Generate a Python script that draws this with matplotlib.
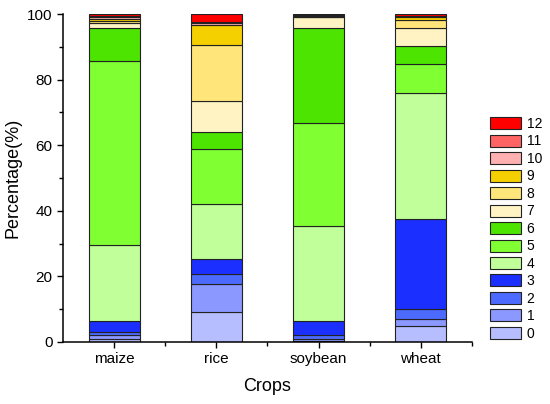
import matplotlib
matplotlib.use('Agg')
import matplotlib.pyplot as plt
import matplotlib.ticker as mticker
import numpy as np

plt.rcParams['font.family'] = ['Liberation Sans', 'DejaVu Sans']

crops = ['maize', 'rice', 'soybean', 'wheat']
classes = ['0', '1', '2', '3', '4', '5', '6', '7', '8', '9', '10', '11', '12']

# cumulative tops, per crop, for classes 0..12
maize_cum = [1.0, 2.2, 3.0, 6.3, 29.7, 85.8, 95.6, 97.2, 98.0, 98.6, 99.1, 99.4, 100.0]
rice_cum = [9.2, 17.6, 20.7, 25.2, 42.2, 58.7, 64.0, 73.4, 90.5, 96.6, 97.2, 97.7, 100.0]
soybean_cum = [0.4, 0.9, 2.0, 6.3, 35.5, 66.8, 95.6, 99.0, 99.2, 99.4, 99.6, 99.8, 100.0]
wheat_cum = [5.0, 7.1, 10.2, 37.5, 75.9, 84.7, 90.3, 95.6, 98.2, 99.0, 99.3, 99.5, 100.0]

colors = ['#b6beff', '#8a98ff', '#4d6aff', '#1b30ff', '#c0ff9a', '#80ff33', '#4ce400',
          '#fff3c4', '#ffe57a', '#f5d000', '#ffb0b0', '#ff6464', '#ff0000']

cum = np.array([maize_cum, rice_cum, soybean_cum, wheat_cum])
share = np.diff(np.hstack([np.zeros((4, 1)), cum]), axis=1)

fig = plt.figure(figsize=(5.5, 4.04), dpi=100)
ax = fig.add_axes([0.1145, 0.1535, 0.7437, 0.8118])

x = np.arange(len(crops))
bottom = np.zeros(len(crops))
handles = []
for i, c in enumerate(classes):
    h = ax.bar(x, share[:, i], 0.5, bottom=bottom, color=colors[i],
               edgecolor='#222222', linewidth=0.8, label=c)
    handles.append(h)
    bottom += share[:, i]

ax.set_xlim(-0.5, 3.5)
ax.set_ylim(0, 100)
ax.set_xticks(x)
ax.set_xticklabels(crops, fontsize=11)
ax.xaxis.set_minor_locator(mticker.FixedLocator([0.5, 1.5, 2.5, 3.5]))
ax.yaxis.set_major_locator(mticker.MultipleLocator(20))
ax.yaxis.set_minor_locator(mticker.MultipleLocator(10))
ax.tick_params(axis='y', labelsize=11)
ax.tick_params(which='major', length=4, width=1, direction='out')
ax.tick_params(which='minor', length=3, width=1, direction='out')
for s in ['top', 'right']:
    ax.spines[s].set_visible(False)
ax.spines['left'].set_linewidth(1.1)
ax.spines['bottom'].set_linewidth(1.1)

ax.set_xlabel('Crops', fontsize=13, labelpad=8)
ax.set_ylabel('Percentage(%)', fontsize=13, labelpad=4)

leg = ax.legend(handles[::-1], classes[::-1], loc='center left',
                bbox_to_anchor=(1.045, 0.345), frameon=False, fontsize=10,
                handlelength=2.2, handleheight=0.95, labelspacing=0.25,
                handletextpad=0.4, borderaxespad=0, borderpad=0)

fig.savefig('out.png', dpi=100)
